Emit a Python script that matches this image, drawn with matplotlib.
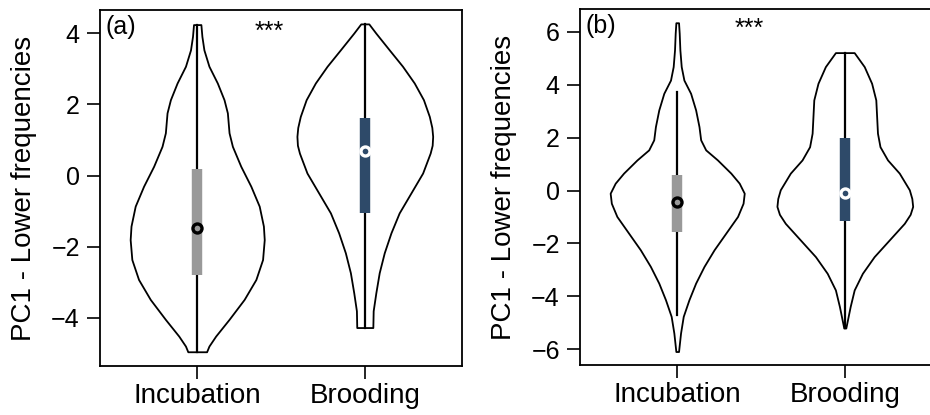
import numpy as np
import matplotlib
matplotlib.use('Agg')
import matplotlib.pyplot as plt

plt.rcParams['font.family'] = ['Liberation Sans', 'DejaVu Sans']

groups = ['Incubation', 'Brooding']
box_cols = ['#999999', '#2e4a69']
med_cols = ['black', 'white']

# panel (a): violin outlines (value, half width)
a_inc_y = [4.24, 3.91, 3.53, 3.07, 2.60, 2.13, 1.76, 1.20, 0.82, 0.26, -0.30, -0.86, -1.42, -1.80, -2.36, -2.92, -3.48, -4.04, -4.51, -4.79, -4.95]
a_inc_w = [0.022, 0.028, 0.04, 0.07, 0.12, 0.16, 0.18, 0.19, 0.21, 0.26, 0.32, 0.37, 0.395, 0.40, 0.39, 0.35, 0.28, 0.19, 0.11, 0.07, 0.056]
a_bro_y = [4.26, 4.00, 3.53, 3.07, 2.60, 2.13, 1.66, 1.35, 1.10, 0.85, 0.63, 0.07, -0.49, -1.05, -1.61, -2.17, -2.73, -3.29, -3.80, -4.27]
a_bro_w = [0.024, 0.066, 0.146, 0.225, 0.295, 0.35, 0.385, 0.40, 0.405, 0.402, 0.39, 0.345, 0.275, 0.205, 0.156, 0.116, 0.086, 0.066, 0.05, 0.048]
# whisker low/high, box q1/q3, median
a_stats = [(-4.95, 4.24, -2.78, 0.19, -1.47),
           (-4.27, 4.26, -1.05, 1.62, 0.70)]

# panel (b)
b_inc_y = [6.35, 5.95, 5.32, 4.69, 4.18, 3.68, 3.05, 2.42, 1.92, 1.54, 1.16, 0.66, 0.28, -0.10, -0.48, -0.98, -1.61, -2.24, -2.87, -3.50, -4.13, -4.76, -5.39, -6.09]
b_inc_w = [0.008, 0.012, 0.016, 0.024, 0.04, 0.08, 0.11, 0.13, 0.14, 0.17, 0.24, 0.32, 0.37, 0.40, 0.393, 0.36, 0.29, 0.22, 0.16, 0.11, 0.07, 0.036, 0.02, 0.008]
b_bro_y = [5.22, 4.69, 4.06, 3.43, 2.80, 2.17, 1.66, 1.16, 0.66, 0.03, -0.30, -0.60, -0.90, -1.24, -1.87, -2.50, -3.13, -3.76, -4.39, -4.89, -5.20]
b_bro_w = [0.056, 0.116, 0.16, 0.185, 0.19, 0.195, 0.21, 0.255, 0.325, 0.385, 0.40, 0.405, 0.39, 0.355, 0.265, 0.175, 0.105, 0.056, 0.032, 0.016, 0.006]
b_stats = [(-4.70, 3.74, -1.55, 0.59, -0.42),
           (-5.20, 5.22, -1.17, 1.98, -0.08)]

fig = plt.figure(figsize=(9.3, 4.15), dpi=100)
ax1 = fig.add_axes([100/930, 49/415, 362/930, 356/415])
ax2 = fig.add_axes([580/930, 50/415, 362/930, 356/415])


def violins(ax, shapes, stats, ylim, yticks, tag, star_y):
    for i, ((ys, ws), st) in enumerate(zip(shapes, stats)):
        x = i + 1
        ys = np.array(ys)
        ws = np.array(ws)
        ax.fill_betweenx(ys, x - ws, x + ws, facecolor='white', edgecolor='black', lw=1.3, zorder=2)
        lo, hi, q1, q3, med = st
        ax.plot([x, x], [lo, hi], color='black', lw=1.6, zorder=3)
        ax.plot([x, x], [q1, q3], color=box_cols[i], lw=7.5, solid_capstyle='butt', zorder=4)
        ax.plot([x], [med], marker='o', ms=6.5, mfc='none', mec=med_cols[i], mew=2.4, zorder=5)
    ax.set_xlim(0.42, 2.58)
    ax.set_ylim(*ylim)
    ax.set_xticks([1, 2])
    ax.set_xticklabels(groups, fontsize=20)
    ax.set_yticks(yticks)
    ax.set_yticklabels([str(t).replace('-', '\u2212') for t in yticks], fontsize=18)
    ax.tick_params(axis='both', direction='out', length=9.5, width=1.2, color='black')
    ax.tick_params(axis='y', pad=5)
    ax.tick_params(axis='x', pad=3)
    for s in ax.spines.values():
        s.set_linewidth(1.3)
    ax.set_ylabel('PC1 - Lower frequencies', fontsize=20, labelpad=10)
    ax.text(0.016, 0.985, tag, transform=ax.transAxes, ha='left', va='top', fontsize=18)
    ax.text(1.43, star_y, '***', ha='center', va='center', fontsize=18)


violins(ax1, [(a_inc_y, a_inc_w), (a_bro_y, a_bro_w)], a_stats, (-5.35, 4.65), [-4, -2, 0, 2, 4], '(a)', 4.05)
violins(ax2, [(b_inc_y, b_inc_w), (b_bro_y, b_bro_w)], b_stats, (-6.6, 6.87), [-6, -4, -2, 0, 2, 4, 6], '(b)', 6.1)

fig.savefig('out.png', dpi=100)
